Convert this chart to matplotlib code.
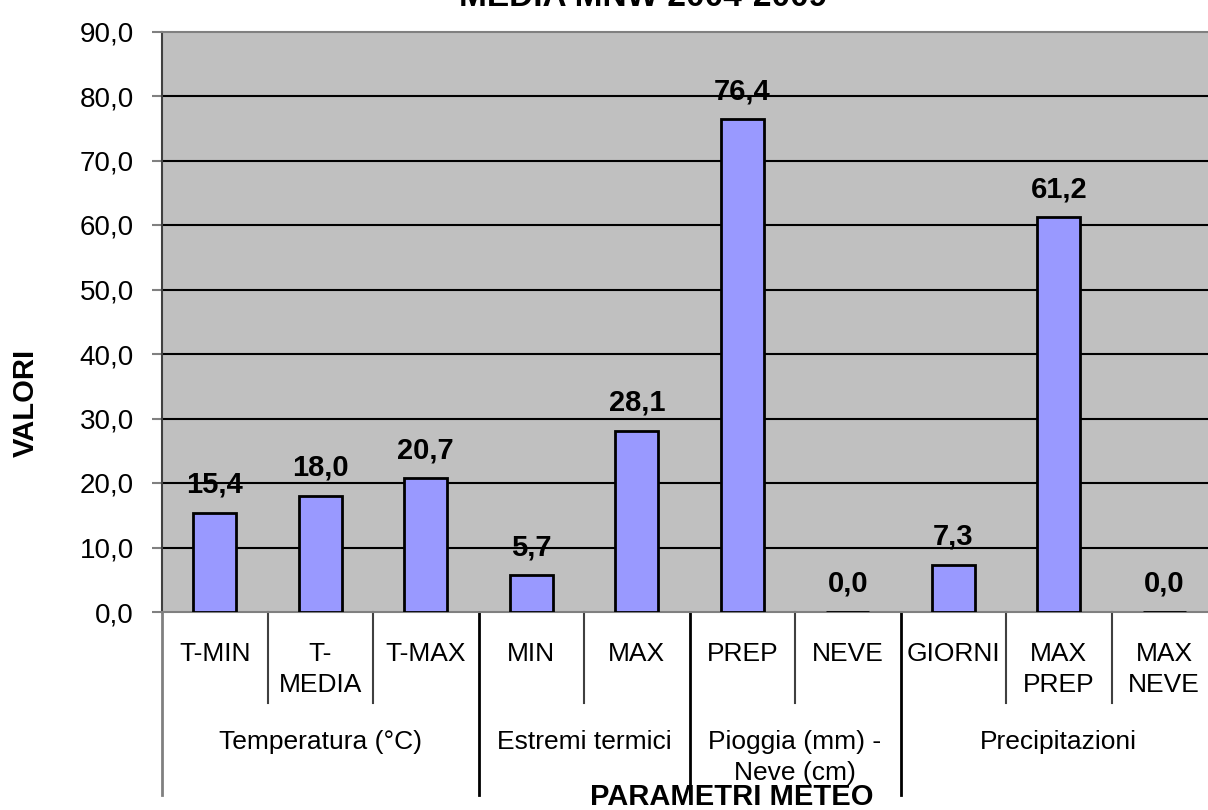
import numpy as np
import matplotlib
matplotlib.use('Agg')
import matplotlib.pyplot as plt

plt.rcParams['font.family'] = ['Liberation Sans', 'DejaVu Sans']

categories = ['T-MIN', 'T-\nMEDIA', 'T-MAX', 'MIN', 'MAX', 'PREP', 'NEVE', 'GIORNI', 'MAX\nPREP', 'MAX\nNEVE']
values = [15.4, 18.0, 20.7, 5.7, 28.1, 76.4, 0.0, 7.3, 61.2, 0.0]
groups = ['Temperatura (°C)', 'Estremi termici', 'Pioggia (mm) -\nNeve (cm)', 'Precipitazioni']
group_sizes = [3, 2, 2, 3]
yticks = np.arange(0, 91, 10)

fig = plt.figure(figsize=(12.08, 8.10), dpi=100)
ax = fig.add_axes([162 / 1208, (810 - 612) / 810, (1217 - 162) / 1208, (612 - 31.5) / 810])
ax.set_facecolor('#C0C0C0')

x = np.arange(len(categories))
ax.bar(x, values, width=0.41, color='#9999FF', edgecolor='black', linewidth=2, zorder=3)

for xi, v in zip(x, values):
    ax.annotate(f'{v:.1f}'.replace('.', ','), (xi, v), xytext=(0, 14.5), textcoords='offset points',
                ha='center', va='baseline', fontsize=21, fontweight='bold', zorder=4)

ax.set_xlim(-0.5, len(categories) - 0.5)
ax.set_ylim(0, 90)
ax.set_yticks(yticks)
ax.set_yticklabels([f'{t:.1f}'.replace('.', ',') for t in yticks], fontsize=20)
ax.tick_params(axis='y', length=7.2, width=1.5, color='#808080', pad=13)
ax.set_xticks([])
for t in yticks[1:-1]:
    ax.axhline(t, color='black', lw=1.5, zorder=1)

for side in ['top', 'right']:
    ax.spines[side].set_color('#808080')
    ax.spines[side].set_linewidth(1.5)
ax.spines['left'].set_color('#404040')
ax.spines['left'].set_linewidth(1.5)
ax.spines['bottom'].set_color('#808080')
ax.spines['bottom'].set_linewidth(1.5)

# category axis, two levels
trans = ax.get_xaxis_transform()
inner_bottom = -(703 - 612) / 580.5
outer_bottom = -(795 - 612) / 580.5
for xi, lab in zip(x, categories):
    ax.text(xi, -0.0517, lab, transform=trans, ha='center', va='top', fontsize=19,
            linespacing=1.37, clip_on=False)

bounds = np.cumsum([0] + group_sizes) - 0.5
for b in np.arange(0.5, len(categories) - 1, 1.0):
    if b in bounds:
        continue
    ax.plot([b, b], [0, inner_bottom], transform=trans, color='#404040', lw=1.5, clip_on=False)
for i, b in enumerate(bounds[:-1]):
    ax.plot([b, b], [0, outer_bottom], transform=trans,
            color='#808080' if i == 0 else 'black', lw=2, clip_on=False)
for g, lo, hi in zip(groups, bounds[:-1], bounds[1:]):
    ax.text((lo + hi) / 2, -0.203, g, transform=trans, ha='center', va='top', fontsize=19,
            linespacing=1.4, clip_on=False)

fig.text(26 / 1208, 1 - 403 / 810, 'VALORI', rotation=90, ha='center', va='center',
         fontsize=21, fontweight='bold')
fig.text(732 / 1208, 1 - 797 / 810, 'PARAMETRI METEO', ha='center', va='center',
         fontsize=21, fontweight='bold')
fig.text(643 / 1208, 1 - 6 / 810, 'MEDIA MNW 2004-2009', ha='center', va='baseline',
         fontsize=24, fontweight='bold')

fig.savefig('out.png', dpi=100)
